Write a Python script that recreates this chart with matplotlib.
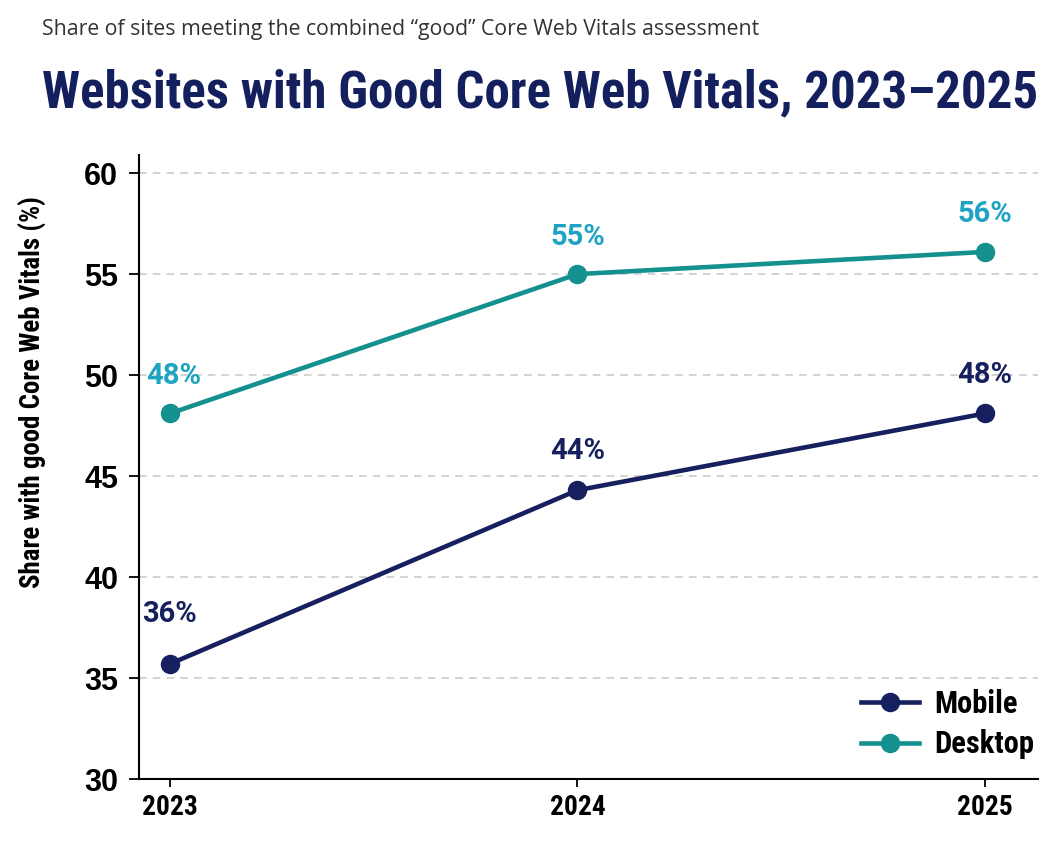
import matplotlib
matplotlib.use("Agg")
import matplotlib.pyplot as plt
from matplotlib.lines import Line2D

years = ["2023", "2024", "2025"]
mobile = [35.7, 44.3, 48.1]
desktop = [48.1, 55.0, 56.1]
mobile_labels = ["36%", "44%", "48%"]
desktop_labels = ["48%", "55%", "56%"]
yticks = [30, 35, 40, 45, 50, 55, 60]

NAVY = "#17205f"
TEAL = "#14908f"
CYAN = "#1ea3c2"
TITLE = "#14205e"
COND = ["Roboto Condensed", "Roboto", "DejaVu Sans"]

fig = plt.figure(figsize=(10.64, 8.51), dpi=100)
ax = fig.add_axes([0.1306, 0.0846, 0.845, 0.7333])

x = list(range(len(years)))
ax.plot(x, desktop, color=TEAL, lw=3.3, marker="o", ms=13, zorder=3, label="Desktop")
ax.plot(x, mobile, color=NAVY, lw=3.3, marker="o", ms=13, zorder=3, label="Mobile")

lab_font = dict(family=["Roboto", "DejaVu Sans"], weight="bold", fontsize=21)
for i, (v, t) in enumerate(zip(desktop, desktop_labels)):
    ax.annotate(t, (i, v), xytext=(3 if i == 0 else 0, 27), textcoords="offset points",
                ha="center", va="center", color=CYAN, **lab_font)
for i, (v, t) in enumerate(zip(mobile, mobile_labels)):
    off = 36 if i == 0 else 28
    ax.annotate(t, (i, v), xytext=(0, off), textcoords="offset points",
                ha="center", va="center", color=NAVY, **lab_font)

ax.set_xlim(-0.076, 2.13)
ax.set_ylim(30, 60.9)
ax.set_xticks(x)
ax.set_xticklabels(years, family=COND, weight="bold", fontsize=19.8)
ax.set_yticks(yticks)
ax.set_yticklabels([str(v) for v in yticks], family=["Liberation Sans", "DejaVu Sans"], weight="bold", fontsize=22)
ax.tick_params(axis="y", length=7, width=1.3, pad=8, colors="black")
ax.tick_params(axis="x", length=6, width=1.3, pad=5, colors="black")

for s in ["top", "right"]:
    ax.spines[s].set_visible(False)
for s in ["left", "bottom"]:
    ax.spines[s].set_linewidth(1.5)
    ax.spines[s].set_color("black")

ax.yaxis.grid(True, color="#c8c8c8", lw=1.1, linestyle=(0, (5, 4)))
ax.set_axisbelow(True)

ax.set_ylabel("Share with good Core Web Vitals (%)", family=COND, weight="bold", fontsize=19.4)
ax.yaxis.set_label_coords(-0.102, 0.62)

handles = [Line2D([], [], color=NAVY, lw=3.3, marker="o", ms=13),
           Line2D([], [], color=TEAL, lw=3.3, marker="o", ms=13)]
ax.legend(handles, ["Mobile", "Desktop"], loc="lower right", frameon=False,
          prop=dict(family=COND, weight="bold", size=22),
          handlelength=1.9, borderaxespad=0.0, labelspacing=0.35, handletextpad=0.5,
          bbox_to_anchor=(1.009, 0.012))

fig.text(0.0395, 0.965, "Share of sites meeting the combined \u201cgood\u201d Core Web Vitals assessment",
         family=["Open Sans", "DejaVu Sans"], fontsize=15.3, color="#333333", va="center", ha="left")
fig.text(0.0395, 0.890, "Websites with Good Core Web Vitals, 2023\u20132025",
         family=COND, weight="bold", fontsize=36.6,
         color=TITLE, va="center", ha="left")

fig.savefig("out.png", dpi=100, facecolor="white")
